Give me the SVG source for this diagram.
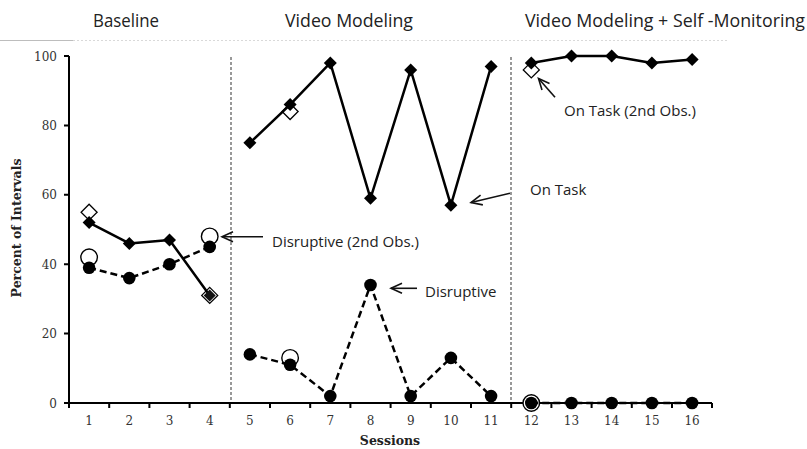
<svg xmlns="http://www.w3.org/2000/svg" width="807" height="449" viewBox="0 0 807 449">
  <style>
    .hdr { font-family: "Open Sans", "Noto Sans", sans-serif; font-size: 18px; fill: #222; }
    .note { font-family: "Open Sans", "Noto Sans", sans-serif; font-size: 15px; fill: #222; }
    .tick { font-family: "DejaVu Serif", "Liberation Serif", serif; font-size: 12px; fill: #333; }
    .title { font-family: "DejaVu Serif", "Liberation Serif", serif; font-size: 12.5px; font-weight: bold; fill: #222; }
    .axis { stroke: #000; stroke-width: 2; fill: none; }
    .phase { stroke: #333; stroke-width: 1; stroke-dasharray: 3 2; fill: none; }
    .ontask { stroke: #000; stroke-width: 2.5; fill: none; stroke-linejoin: round; }
    .disrupt { stroke: #000; stroke-width: 2.5; fill: none; stroke-dasharray: 7 4; }
    .pointer { stroke: #111; stroke-width: 1.6; fill: none; marker-end: url(#chev); }
  </style>
  <defs>
    <path id="dia" d="M0,-6.5 L6.5,0 L0,6.5 L-6.5,0Z" fill="#000"/>
    <path id="odia" d="M0,-8 L8,0 L0,8 L-8,0Z" fill="#fff" stroke="#000" stroke-width="1.3"/>
    <circle id="dot" r="6.3" fill="#000"/>
    <circle id="ring" r="8.3" fill="#fff" stroke="#000" stroke-width="1.4"/>
    <marker id="chev" viewBox="0 0 12 10" refX="11" refY="5" markerWidth="12" markerHeight="10" markerUnits="userSpaceOnUse" orient="auto" overflow="visible">
      <path d="M0,0 L11,5 L0,10" fill="none" stroke="#111" stroke-width="1.6"/>
    </marker>
  </defs>

  <!-- header rule -->
  <g id="header-rule">
    <line x1="0" y1="40.5" x2="73" y2="40.5" stroke="#bdbdbd" stroke-width="1"/>
    <line x1="73" y1="40.5" x2="728" y2="40.5" stroke="#d9d9d9" stroke-width="1" stroke-dasharray="2 2"/>
  </g>

  <!-- phase headings -->
  <g id="phase-headings">
    <text class="hdr" x="93" y="27" textLength="66" lengthAdjust="spacingAndGlyphs">Baseline</text>
    <text class="hdr" x="285" y="27" textLength="128" lengthAdjust="spacingAndGlyphs">Video Modeling</text>
    <text class="hdr" x="525" y="27" textLength="280" lengthAdjust="spacingAndGlyphs">Video Modeling + Self -Monitoring</text>
  </g>

  <!-- phase change lines -->
  <g id="phase-lines">
    <line class="phase" x1="231" y1="57" x2="231" y2="403"/>
    <line class="phase" x1="511" y1="57" x2="511" y2="403"/>
  </g>

  <!-- axes -->
  <g id="axes">
    <polyline class="axis" points="69,56 69,403 712,403"/>
    <path stroke="#000" stroke-width="2" d="M64,56H69M64,125.4H69M64,194.8H69M64,264.2H69M64,333.6H69M64,403H69"/>
    <path stroke="#000" stroke-width="2" d="M69,403V408M109.2,403V408M149.4,403V408M189.6,403V408M229.8,403V408M270,403V408M310.2,403V408M350.4,403V408M390.6,403V408M430.8,403V408M471,403V408M511.2,403V408M551.4,403V408M591.6,403V408M631.8,403V408M672,403V408M712,403V408"/>
    <g class="tick" text-anchor="end">
      <text x="57" y="60.5">100</text>
      <text x="57" y="129.9">80</text>
      <text x="57" y="199.3">60</text>
      <text x="57" y="268.7">40</text>
      <text x="57" y="338.1">20</text>
      <text x="57" y="407.5">0</text>
    </g>
    <g class="tick" text-anchor="middle">
      <text x="89.1" y="425">1</text>
      <text x="129.3" y="425">2</text>
      <text x="169.5" y="425">3</text>
      <text x="209.7" y="425">4</text>
      <text x="249.9" y="425">5</text>
      <text x="290.1" y="425">6</text>
      <text x="330.3" y="425">7</text>
      <text x="370.5" y="425">8</text>
      <text x="410.7" y="425">9</text>
      <text x="450.9" y="425">10</text>
      <text x="491.1" y="425">11</text>
      <text x="531.3" y="425">12</text>
      <text x="571.5" y="425">13</text>
      <text x="611.7" y="425">14</text>
      <text x="651.9" y="425">15</text>
      <text x="692.1" y="425">16</text>
    </g>
    <text class="title" x="390" y="445" text-anchor="middle" font-size="13">Sessions</text>
    <text class="title" transform="translate(21,228) rotate(-90)" text-anchor="middle">Percent of Intervals</text>
  </g>

  <!-- second-observer markers (drawn beneath primary data) -->
  <g id="second-observer">
    <use href="#odia" x="89.1" y="212.2"/>
    <use href="#odia" x="209.7" y="295.4"/>
    <use href="#odia" x="290.1" y="111.5"/>
    <use href="#odia" x="531.3" y="69.9"/>
    <use href="#ring" x="89.1" y="257.3"/>
    <use href="#ring" x="209.7" y="236.4"/>
    <use href="#ring" x="290.1" y="357.9"/>
    <use href="#ring" x="531.3" y="403"/>
  </g>

  <!-- data series paths -->
  <g id="connectors">
    <polyline class="ontask" points="89.1,222.6 129.3,243.4 169.5,239.9 209.7,295.4"/>
    <polyline class="ontask" points="249.9,142.8 290.1,104.6 330.3,62.9 370.5,198.3 410.7,69.9 450.9,205.2 491.1,66.4"/>
    <polyline class="ontask" points="531.3,62.9 571.5,56 611.7,56 651.9,62.9 692.1,59.5"/>
    <polyline class="disrupt" points="89.1,267.7 129.3,278.1 169.5,264.2 209.7,246.9"/>
    <polyline class="disrupt" points="249.9,354.4 290.1,364.8 330.3,396.1 370.5,285 410.7,396.1 450.9,357.9 491.1,396.1"/>
    <polyline class="disrupt" points="531.3,403 692.1,403"/>
  </g>

  <!-- on-task points -->
  <g id="ontask-points">
    <use href="#dia" x="89.1" y="222.6"/>
    <use href="#dia" x="129.3" y="243.4"/>
    <use href="#dia" x="169.5" y="239.9"/>
    <path d="M209.7,289.4 L215.7,295.4 L209.7,301.4 L203.7,295.4Z" fill="#111"/>
    <use href="#dia" x="249.9" y="142.8"/>
    <use href="#dia" x="290.1" y="104.6"/>
    <use href="#dia" x="330.3" y="62.9"/>
    <use href="#dia" x="370.5" y="198.3"/>
    <use href="#dia" x="410.7" y="69.9"/>
    <use href="#dia" x="450.9" y="205.2"/>
    <use href="#dia" x="491.1" y="66.4"/>
    <use href="#dia" x="531.3" y="62.9"/>
    <use href="#dia" x="571.5" y="56"/>
    <use href="#dia" x="611.7" y="56"/>
    <use href="#dia" x="651.9" y="62.9"/>
    <use href="#dia" x="692.1" y="59.5"/>
  </g>

  <!-- disruptive points -->
  <g id="disruptive-points">
    <use href="#dot" x="89.1" y="267.7"/>
    <use href="#dot" x="129.3" y="278.1"/>
    <use href="#dot" x="169.5" y="264.2"/>
    <use href="#dot" x="209.7" y="246.9"/>
    <use href="#dot" x="249.9" y="354.4"/>
    <use href="#dot" x="290.1" y="364.8"/>
    <use href="#dot" x="330.3" y="396.1"/>
    <use href="#dot" x="370.5" y="285"/>
    <use href="#dot" x="410.7" y="396.1"/>
    <use href="#dot" x="450.9" y="357.9"/>
    <use href="#dot" x="491.1" y="396.1"/>
    <use href="#dot" x="531.3" y="403"/>
    <use href="#dot" x="571.5" y="403"/>
    <use href="#dot" x="611.7" y="403"/>
    <use href="#dot" x="651.9" y="403"/>
    <use href="#dot" x="692.1" y="403"/>
  </g>

  <!-- series annotations -->
  <g id="label-disruptive-2nd">
    <line class="pointer" x1="263" y1="236.7" x2="222" y2="236.7"/>
    <text class="note" x="272" y="247">Disruptive (2nd Obs.)</text>
  </g>
  <g id="label-disruptive">
    <line class="pointer" x1="417" y1="288.3" x2="391" y2="288.3"/>
    <text class="note" x="425" y="297">Disruptive</text>
  </g>
  <g id="label-ontask">
    <line class="pointer" x1="510" y1="193.3" x2="471" y2="202.5"/>
    <text class="note" x="530" y="195">On Task</text>
  </g>
  <g id="label-ontask-2nd">
    <line class="pointer" x1="555" y1="97.3" x2="538.5" y2="78.5"/>
    <text class="note" x="564" y="116">On Task (2nd Obs.)</text>
  </g>
</svg>
